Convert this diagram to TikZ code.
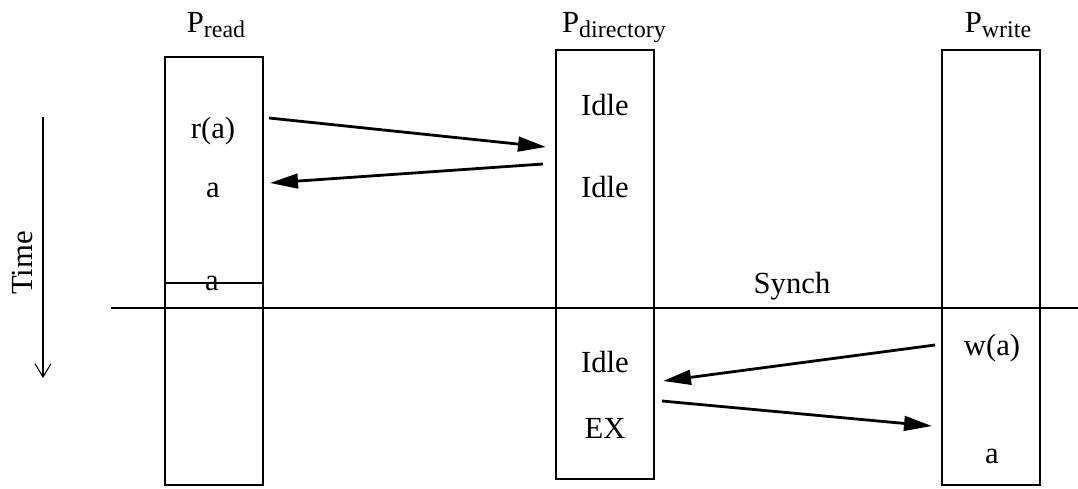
\documentclass[tikz,border=0pt]{standalone}
\usepackage{fontspec}
\setmainfont{Liberation Serif}
\usetikzlibrary{arrows.meta}
\newcommand{\psub}[1]{P\raisebox{-0.4ex}{\fontsize{18}{18}\selectfont #1}}

\begin{document}
\begin{tikzpicture}[x=0.75pt,y=-0.75pt,font=\fontsize{23}{27}\selectfont,
    box/.style={draw,line width=0.8pt,minimum width=73.5pt,inner sep=0pt},
    lbl/.style={anchor=base,inner sep=0pt},
    msg/.style={line width=2.1pt,-{Triangle[length=21pt,width=11pt]}}]
    \useasboundingbox (0,0) rectangle (1078,489);
    \node[box,minimum height=321pt] (pr) at (214,271) {};
    \node[box,minimum height=321.75pt] (pd) at (605,264.5) {};
    \node[box,minimum height=326.25pt] (pw) at (991,267.5) {};
    \node[lbl] (a) at (216,32) {\psub{read}};
    \node[lbl] (b) at (614,32) {\psub{directory}};
    \node[lbl] (c) at (998,32) {\psub{write}};
    \node[lbl] (d) at (213,138) {r(a)};
    \node[lbl] (e) at (213,197) {a};
    \node[lbl] (f) at (212,290) {a};
    \node[lbl] (g) at (605,115) {Idle};
    \node[lbl] (h) at (605,197) {Idle};
    \node[lbl] (i) at (605,372) {Idle};
    \node[lbl] (j) at (605,438) {EX};
    \node[lbl] (k) at (992,355) {w(a)};
    \node[lbl] (l) at (992,463) {a};
    \node[lbl] (m) at (792,293) {Synch};
    \node[rotate=90] (n) at (22,263) {Time};
    \coordinate (c1) at (269,118);
    \coordinate (c2) at (546,147);
    \coordinate (c3) at (543,164);
    \coordinate (c4) at (270,183);
    \coordinate (c5) at (935,345);
    \coordinate (c6) at (663,381);
    \coordinate (c7) at (662,401);
    \coordinate (c8) at (932,426);
    \coordinate (t1) at (43,117);
    \coordinate (t2) at (43,378);
    \coordinate (s1) at (165,283);
    \coordinate (s2) at (263,283);
    \coordinate (y1) at (111,308);
    \coordinate (y2) at (1078,308);
    \draw [msg] (c1) -- (c2);
    \draw [msg] (c3) -- (c4);
    \draw [msg] (c5) -- (c6);
    \draw [msg] (c7) -- (c8);
    \draw [line width=0.8pt,-{Straight Barb[length=10pt,width=12pt]}] (t1) -- (t2);
    \draw [line width=1.9pt] (s1) -- (s2);
    \draw [line width=1.9pt] (y1) -- (y2);
  \end{tikzpicture}
\end{document}
